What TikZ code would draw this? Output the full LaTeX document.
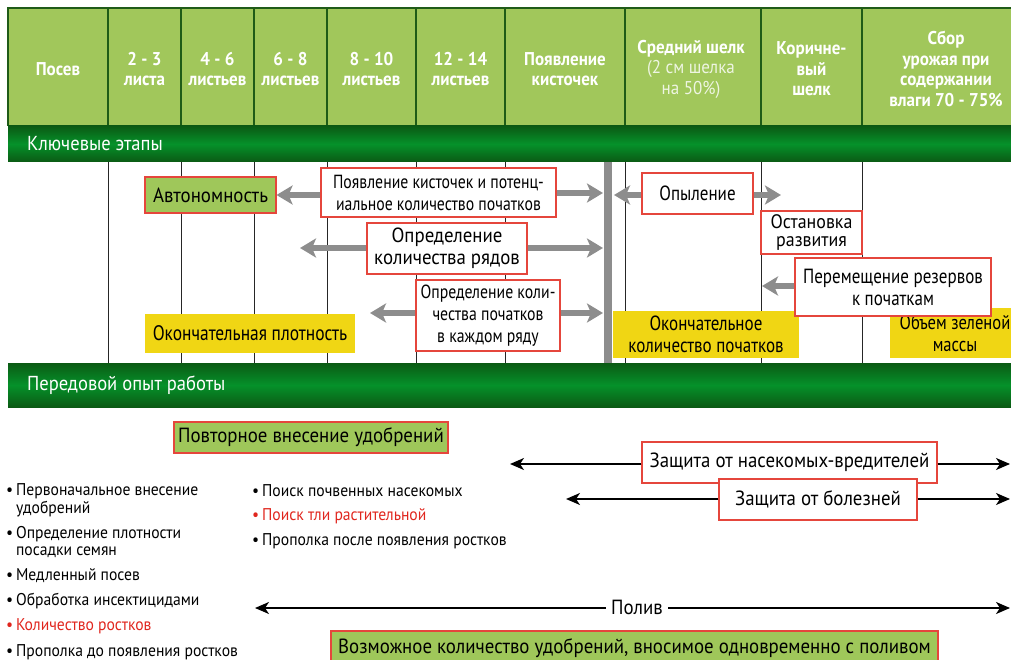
\documentclass[tikz,border=0pt]{standalone}
\usepackage{fontspec}
\setmainfont{PT Sans}[FakeStretch=0.92]
\newfontfamily\mynarrow{PT Sans}[FakeStretch=0.83]
\usetikzlibrary{arrows.meta}
\definecolor{hgreen}{HTML}{A1C75B}
\definecolor{hline}{HTML}{1F5B17}
\definecolor{bdark}{HTML}{0B5A14}
\definecolor{bmid}{HTML}{05912A}
\definecolor{boxred}{HTML}{E5463C}
\definecolor{txtred}{HTML}{E0261E}
\definecolor{ylw}{HTML}{F0D614}
\definecolor{garrow}{HTML}{8D8D8D}
\definecolor{bgreen}{HTML}{9FC75A}
\definecolor{hsub}{HTML}{EEF5E2}
\newcommand\myhdrf{\bfseries\fontsize{18.5}{20.5}\selectfont}
\newcommand\mybandf{\fontsize{20.2}{24}\selectfont}
\newcommand\myboxf{\fontsize{20.5}{22}\selectfont}
\newcommand\mymidf{\mynarrow\fontsize{20.5}{22}\selectfont}
\newcommand\mypkf{\mynarrow\fontsize{19}{22}\selectfont}
\newcommand\mysmallboxf{\fontsize{19.5}{18}\selectfont}
\newcommand\mylistf{\fontsize{17}{16.5}\selectfont}
\begin{document}
\begin{tikzpicture}[x=1pt,y=-1pt,
  hdr/.style={text=white, font=\myhdrf, align=center, inner sep=0pt},
  bandtxt/.style={text=white, font=\mybandf, anchor=west, inner sep=0pt},
  boxw/.style={draw=boxred, line width=1.1pt, fill=white, inner sep=0pt, align=center, font=\myboxf},
  boxg/.style={boxw, fill=bgreen},
  ybox/.style={fill=ylw, inner sep=0pt, align=center, font=\mymidf},
  garr/.style={draw=garrow, line width=5.5pt, -{Stealth[length=16pt,width=19pt,inset=4pt]}},
  barr/.style={draw=black, line width=1.8pt, -{Stealth[length=14pt,width=12pt,inset=4pt]}},
  vline/.style={draw=black!85, line width=0.8pt},
  hdline/.style={draw=hline, line width=1.1pt},
  item/.style={anchor=west, inner sep=0pt, font=\mylistf, align=left}
]
\useasboundingbox (0,0) rectangle (1011,660);
\clip (0,0) rectangle (1011,660);
% header
\fill[hgreen] (8,8) rectangle (1015,126);
\draw[hdline] (8,126) -- (8,8) -- (1015,8);
\foreach \x in {108,181,254,327,416,505,625,761,862}
  \draw[hdline] (\x,8) -- (\x,126);
\node[hdr] (h1) at (58,69) {Посев};
\node[hdr] (h2) at (144.5,69) {2 - 3\\листа};
\node[hdr] (h3) at (217.5,69) {4 - 6\\листьев};
\node[hdr] (h4) at (290.5,69) {6 - 8\\листьев};
\node[hdr] (h5) at (371.5,69) {8 - 10\\листьев};
\node[hdr] (h6) at (460.5,69) {12 - 14\\листьев};
\node[hdr] (h7) at (565,69) {Появление\\кисточек};
\node[hdr] (h8) at (691,69) {Средний шелк\\\mdseries\color{hsub}(2 см шелка\\\mdseries\color{hsub}на 50\%)};
\node[hdr] (h9) at (811.5,69) {Коричне-\\вый\\шелк};
\node[hdr] (h10) at (946,69) {Сбор\\урожая при\\содержании\\влаги 70 - 75\%};
% band 1
\shade[top color=bdark, bottom color=bdark, middle color=bmid] (8,126) rectangle (1015,162);
\node[bandtxt] (b1) at (27,144) {Ключевые этапы};
% middle area lines
\foreach \x in {108,181,254,327,416,505,625,761,862}
  \draw[vline] (\x,162) -- (\x,363);
\fill[garrow] (604,162) rectangle (612,363);
% band 2
\shade[top color=bdark, bottom color=bdark, middle color=bmid] (8,363) rectangle (1015,407);
\node[bandtxt] (b2) at (27,385) {Передовой опыт работы};
% yellow boxes
\node[ybox, font=\mynarrow\fontsize{21}{22}\selectfont, minimum width=210pt, minimum height=39pt] (yd) at (250,333.5) {Окончательная плотность};
\node[ybox, minimum width=186pt, minimum height=47pt] (yk) at (706,334.5) {Окончательное\\количество початков};
\node[ybox, font=\mynarrow\fontsize{20}{22}\selectfont, minimum width=130pt, minimum height=50pt] (yg) at (955,333) {Объем зеленой\\массы};
% key stage boxes
\node[boxg, minimum width=131pt, minimum height=36pt] (auto) at (210.5,195) {Автономность};
\node[boxw, font=\mypkf, minimum width=235pt, minimum height=49pt] (pk) at (438.5,192.5) {Появление кисточек и потенц-\\иальное количество початков};
\node[boxw, minimum width=160pt, minimum height=51pt] (ry) at (447,248.5) {Определение\\количества рядов};
\node[boxw, font=\mypkf, minimum width=144pt, minimum height=71pt] (kr) at (488,315.5) {Определение коли-\\чества початков\\в каждом ряду};
\node[boxw, font=\mymidf, minimum width=111pt, minimum height=41pt] (op) at (697.5,193.5) {Опыление};
\node[boxw, font=\mysmallboxf, minimum width=101pt, minimum height=43pt] (ost) at (811.5,232.5) {Остановка\\развития};
\node[boxw, font=\mymidf, minimum width=196pt, minimum height=58pt] (per) at (893,287) {Перемещение резервов\\к початкам};
% arrow end points
\coordinate (pkR) at (603,193);
\coordinate (ryL) at (300,248);
\coordinate (ryR) at (603,248);
\coordinate (krL) at (370,313);
\coordinate (krR) at (603,313);
\coordinate (opL) at (614,195);
\coordinate (opR) at (781,195);
\coordinate (perL) at (762,286);
\draw[garr] (pk.west |- auto.east) -- (auto.east);
\draw[garr] (pk.east |- pkR) -- (pkR);
\draw[garr] (ry.west |- ryL) -- (ryL);
\draw[garr] (ry.east |- ryR) -- (ryR);
\draw[garr] (kr.west |- krL) -- (krL);
\draw[garr] (kr.east |- krR) -- (krR);
\draw[garr] (op.west |- opL) -- (opL);
\draw[garr] (op.east |- opR) -- (opR);
\draw[garr] (per.west |- perL) -- (perL);
% best practices
\node[boxg, minimum width=274pt, minimum height=31pt] (pv) at (311,437.5) {Повторное внесение удобрений};
\node[boxw, minimum width=295pt, minimum height=41pt] (ins) at (789.5,462.5) {Защита от насекомых-вредителей};
\coordinate (insL) at (510,464);
\coordinate (insR) at (1010,464);
\draw[barr] (ins.west |- insL) -- (insL);
\draw[barr] (ins.east |- insR) -- (insR);
\node[boxw, minimum width=198pt, minimum height=41pt] (dis) at (818,499.5) {Защита от болезней};
\coordinate (disL) at (566,499);
\coordinate (disR) at (1010,499);
\draw[barr] (dis.west |- disL) -- (disL);
\draw[barr] (dis.east |- disR) -- (disR);
\node[font=\myboxf, inner sep=5pt] (pol) at (637,607) {Полив};
\coordinate (polL) at (255,608);
\coordinate (polR) at (1010,608);
\draw[barr] (pol.west |- polL) -- (polL);
\draw[barr] (pol.east |- polR) -- (polR);
\node[boxg, minimum width=607pt, minimum height=34pt] (vz) at (634.5,648) {Возможное количество удобрений, вносимое одновременно с поливом};
% lists
\node[item] (l1) at (6,501) {\begin{tabular}{@{}l@{\,}l@{}}•&Первоначальное внесение\\&удобрений\end{tabular}};
\node[item] (l2) at (6,543.5) {\begin{tabular}{@{}l@{\,}l@{}}•&Определение плотности\\&посадки семян\end{tabular}};
\node[item] (l3) at (6,576) {•\,Медленный посев};
\node[item] (l4) at (6,601) {•\,Обработка инсектицидами};
\node[item, text=txtred] (l5) at (6,626) {•\,Количество ростков};
\node[item] (l6) at (6,652) {•\,Прополка до появления ростков};
\node[item] (r1) at (252,491) {•\,Поиск почвенных насекомых};
\node[item, text=txtred] (r2) at (252,516) {•\,Поиск тли растительной};
\node[item] (r3) at (252,541) {•\,Прополка после появления ростков};
\end{tikzpicture}
\end{document}
